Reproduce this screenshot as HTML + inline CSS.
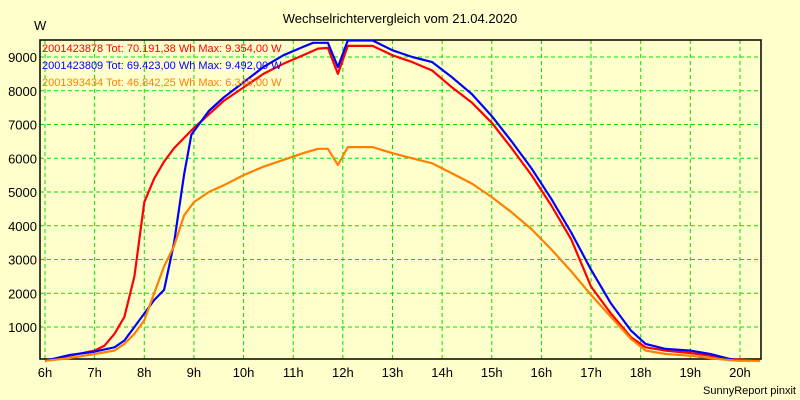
<!DOCTYPE html>
<html><head><meta charset="utf-8"><style>
body{margin:0;background:#ffffcc}
svg{display:block;font-family:"Liberation Sans",sans-serif}
</style></head><body>
<svg id="chart" width="800" height="400">
<rect x="0" y="0" width="800" height="400" fill="#ffffcc"/>
<text x="400" y="23" font-size="13" text-anchor="middle">Wechselrichtervergleich vom 21.04.2020</text>
<text x="34" y="30" font-size="13">W</text>
<text x="796" y="394" font-size="11" text-anchor="end">SunnyReport pinxit</text>
<g id="grid"></g><g id="axes"></g><g id="series"></g><g id="legend"></g>
</svg>
<script>
const xTicks=[6,7,8,9,10,11,12,13,14,15,16,17,18,19,20];
const yTicks=[1000,2000,3000,4000,5000,6000,7000,8000,9000];
const seriesNames=["2001423878 Tot: 70.191,38 Wh Max: 9.354,00 W","2001423809 Tot: 69.423,00 Wh Max: 9.492,00 W","2001393434 Tot: 46.842,25 Wh Max: 6.346,00 W"];
const seriesColors=["#ff0000","#0000ff","#ff8000"];
const redT=[6,6.5,7,7.2,7.4,7.6,7.8,8,8.2,8.4,8.6,8.8,9,9.3,9.6,10,10.4,10.8,11.2,11.5,11.7,11.9,12.1,12.6,13,13.4,13.8,14.2,14.6,15,15.4,15.8,16.2,16.6,17,17.4,17.8,18.1,18.5,19,19.4,19.8,20.4];
const redV=[0,150,300,450,800,1300,2500,4700,5400,5900,6300,6600,6900,7300,7700,8100,8500,8800,9050,9250,9270,8500,9330,9330,9050,8850,8600,8100,7650,7050,6300,5500,4600,3600,2200,1400,700,400,300,230,150,50,0];
const blueT=[6,6.5,7,7.4,7.6,7.8,8,8.2,8.4,8.6,8.8,8.95,9.3,9.6,10,10.4,10.8,11.2,11.4,11.7,11.9,12.1,12.6,13,13.4,13.8,14.2,14.6,15,15.4,15.8,16.2,16.6,17,17.4,17.8,18.1,18.5,19,19.4,19.8,20];
const blueV=[0,170,270,400,600,1000,1400,1800,2100,3500,5500,6700,7400,7800,8250,8700,9050,9300,9420,9420,8700,9490,9490,9200,9000,8850,8400,7900,7250,6500,5700,4800,3800,2700,1700,900,500,350,300,200,50,0];
const orangeT=[6,6.5,7,7.4,7.6,7.8,8,8.2,8.4,8.6,8.8,9,9.3,9.6,10,10.4,10.8,11.2,11.5,11.7,11.9,12.1,12.6,13,13.4,13.8,14.2,14.6,15,15.4,15.8,16.2,16.6,17,17.4,17.8,18.1,18.5,19,19.4,19.8,20,20.4];
const orangeV=[0,80,200,300,500,800,1200,2000,2800,3400,4300,4700,5000,5200,5500,5750,5950,6150,6280,6280,5800,6330,6330,6150,6000,5850,5550,5250,4850,4400,3900,3300,2650,1950,1300,650,300,200,150,80,20,0,0];

const X0=40,X1=761,Y0=40,Y1=359;
const sx=h=>45+(h-6)*49.64;
const sy=v=>360.75-v*0.03375;
const NS="http://www.w3.org/2000/svg";
function mk(tag,attrs,parent){const e=document.createElementNS(NS,tag);for(const k in attrs)e.setAttribute(k,attrs[k]);parent.appendChild(e);return e;}
const grid=document.getElementById('grid'),axes=document.getElementById('axes'),ser=document.getElementById('series'),leg=document.getElementById('legend');
xTicks.forEach(h=>{
  const l=mk('line',{x1:sx(h),x2:sx(h),y1:Y0,y2:Y1,stroke:'#00e000','stroke-dasharray':'4,3','stroke-width':1},grid);
  
  
  const t=mk('text',{x:sx(h),y:377,'font-size':13,'text-anchor':'middle'},axes);
  t.textContent=h+'h';
  
  
});
yTicks.forEach(v=>{
  const l=mk('line',{x1:X0,x2:X1,y1:sy(v),y2:sy(v),stroke:'#00e000','stroke-dasharray':'4,3','stroke-width':1},grid);
  
  
  const t=mk('text',{x:37,y:sy(v)+5,'font-size':13,'text-anchor':'end'},axes);
  t.textContent=v;
  
  
});
const box=mk('rect',{x:X0,y:Y0,width:X1-X0,height:Y1-Y0,fill:'none',stroke:'#000','stroke-width':1.5},axes);


const all=[[redT,redV],[blueT,blueV],[orangeT,orangeV]];
all.forEach((s,i)=>{
  const pts=s[0].map((t,j)=>sx(t).toFixed(1)+','+sy(s[1][j]).toFixed(1)).join(' ');
  const p=mk('polyline',{points:pts,fill:'none',stroke:seriesColors[i],'stroke-width':2.2,'stroke-linejoin':'round'},ser);
  
  
});
// draw blue over red already; order red, blue, orange in legend
seriesNames.forEach((n,i)=>{
  const t=mk('text',{x:42,y:52+i*17,'font-size':11,fill:seriesColors[i]},leg);
  t.textContent=n;
  
  
});
</script>
</body></html>
